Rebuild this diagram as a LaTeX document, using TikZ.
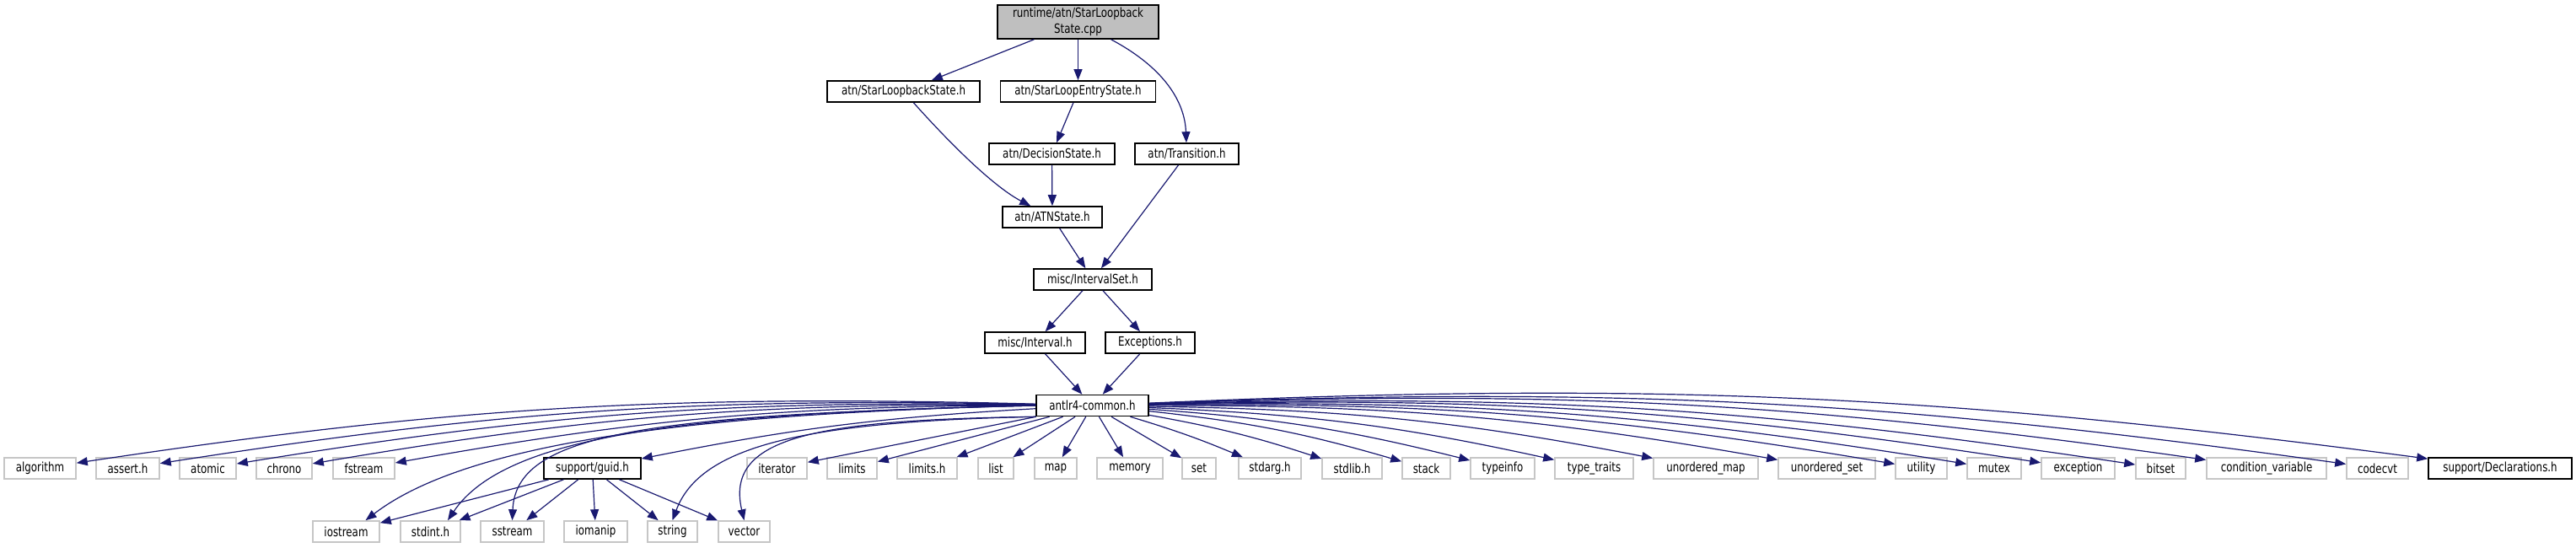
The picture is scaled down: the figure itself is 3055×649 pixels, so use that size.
\documentclass[tikz,border=0pt]{standalone}
\usepackage{fontspec}
\setmainfont[FakeStretch=0.78]{DejaVu Sans}
\usepackage{tikz}
\usepackage{xcolor}
\usetikzlibrary{arrows.meta}
\definecolor{depblue}{HTML}{191970}

\begin{document}
\begin{tikzpicture}[x=0.5pt,y=-0.5pt,
  hfile/.style={draw=black,line width=0.8pt,fill=white,inner sep=0pt,minimum height=12.5pt,font=\fontsize{7.6}{9.5}\selectfont},
  sysfile/.style={hfile,draw=gray!45},
  srcfile/.style={hfile,fill=gray!50,minimum height=20pt,align=center},
  dep/.style={draw=depblue,line width=0.6pt,-{Triangle[length=6.5pt,width=5pt]}}]
  \useasboundingbox (0,0) rectangle (3055,649);
  % upper part
  \node[srcfile,minimum width=95.5pt] (root) at (1278.5,26) {runtime/atn/StarLoopback\\State.cpp};
  \node[hfile,minimum width=90.5pt] (loopback) at (1071.5,108.5) {atn/StarLoopbackState.h};
  \node[hfile,minimum width=92pt] (loopentry) at (1278.5,108.5) {atn/StarLoopEntryState.h};
  \node[hfile,minimum width=74.5pt] (decision) at (1247.5,182.5) {atn/DecisionState.h};
  \node[hfile,minimum width=61.5pt] (transition) at (1407.5,182.5) {atn/Transition.h};
  \node[hfile,minimum width=59pt] (atnstate) at (1248,257.5) {atn/ATNState.h};
  \node[hfile,minimum width=70pt] (intervalset) at (1296,331.5) {misc/IntervalSet.h};
  \node[hfile,minimum width=59.5pt] (interval) at (1227.5,406.5) {misc/Interval.h};
  \node[hfile,minimum width=53pt] (exceptions) at (1364,406.5) {Exceptions.h};
  \node[hfile,minimum width=66.5pt] (common) at (1295.5,481) {antlr4-common.h};
  % first row
  \node[sysfile,minimum width=42.5pt] (algorithm) at (47.5,555.5) {algorithm};
  \node[sysfile,minimum width=37.5pt] (assert) at (151.5,555.5) {assert.h};
  \node[sysfile,minimum width=33.5pt] (atomic) at (246.5,555.5) {atomic};
  \node[sysfile,minimum width=33pt] (chrono) at (337,555.5) {chrono};
  \node[sysfile,minimum width=36.5pt] (fstream) at (431.5,555.5) {fstream};
  \node[hfile,minimum width=57.5pt] (guid) at (702.5,555.5) {support/guid.h};
  \node[sysfile,minimum width=35.5pt] (iterator) at (921.5,555.5) {iterator};
  \node[sysfile,minimum width=29.5pt] (limits) at (1010.5,555.5) {limits};
  \node[sysfile,minimum width=35.5pt] (limitsh) at (1099.5,555.5) {limits.h};
  \node[sysfile,minimum width=21pt] (list) at (1181,555.5) {list};
  \node[sysfile,minimum width=25pt] (map) at (1252,555.5) {map};
  \node[sysfile,minimum width=39pt] (memory) at (1340,555.5) {memory};
  \node[sysfile,minimum width=20pt] (set) at (1422,555.5) {set};
  \node[sysfile,minimum width=37pt] (stdarg) at (1506,555.5) {stdarg.h};
  \node[sysfile,minimum width=35.5pt] (stdlib) at (1603.5,555.5) {stdlib.h};
  \node[sysfile,minimum width=28.5pt] (stack) at (1691.5,555.5) {stack};
  \node[sysfile,minimum width=38pt] (typeinfo) at (1782,555.5) {typeinfo};
  \node[sysfile,minimum width=46.5pt] (typetraits) at (1890.5,555.5) {type\_traits};
  \node[sysfile,minimum width=62pt] (umap) at (2023,555.5) {unordered\_map};
  \node[sysfile,minimum width=57.5pt] (uset) at (2166.5,555.5) {unordered\_set};
  \node[sysfile,minimum width=30.5pt] (utility) at (2278.5,555.5) {utility};
  \node[sysfile,minimum width=32pt] (mutex) at (2365,555.5) {mutex};
  \node[sysfile,minimum width=43.5pt] (exception) at (2464.5,555.5) {exception};
  \node[sysfile,minimum width=29.5pt] (bitset) at (2562.5,555.5) {bitset};
  \node[sysfile,minimum width=71pt] (condvar) at (2688,555.5) {condition\_variable};
  \node[sysfile,minimum width=36.5pt] (codecvt) at (2819.5,555.5) {codecvt};
  \node[hfile,minimum width=85pt] (declarations) at (2965,555.5) {support/Declarations.h};
  % second row
  \node[sysfile,minimum width=39.5pt] (iostream) at (410.5,630.5) {iostream};
  \node[sysfile,minimum width=35.5pt] (stdint) at (510.5,630.5) {stdint.h};
  \node[sysfile,minimum width=37.5pt] (sstream) at (607.5,630.5) {sstream};
  \node[sysfile,minimum width=37.5pt] (iomanip) at (706.5,630.5) {iomanip};
  \node[sysfile,minimum width=29.5pt] (string) at (797.5,630.5) {string};
  \node[sysfile,minimum width=30.5pt] (vector) at (882.5,630.5) {vector};
  % includes
  \draw[dep] (root) -- (loopback); \draw[dep] (root) -- (loopentry);
  \draw[dep] (root) .. controls (1380,80) and (1405,120) .. (transition);
  \draw[dep] (loopback) .. controls (1140,185) and (1185,225) .. (atnstate);
  \draw[dep] (loopentry) -- (decision); \draw[dep] (decision) -- (atnstate);
  \draw[dep] (atnstate) -- (intervalset); \draw[dep] (transition) -- (intervalset);
  \draw[dep] (intervalset) -- (interval); \draw[dep] (intervalset) -- (exceptions);
  \draw[dep] (interval) -- (common); \draw[dep] (exceptions) -- (common);
  \draw[dep] (common) to[bend right=5] (algorithm); \draw[dep] (common) to[bend right=5] (assert);
  \draw[dep] (common) to[bend right=5] (atomic); \draw[dep] (common) to[bend right=5] (chrono);
  \draw[dep] (common) to[bend right=5] (fstream); \draw[dep] (common) to[bend right=4] (guid);
  \draw[dep] (common.west) .. controls (850,490) and (560,520) .. (iostream.30);
  \draw[dep] (common.west) .. controls (820,490) and (600,515) .. (stdint.33);
  \draw[dep] (common.west) .. controls (760,492) and (612,515) .. (sstream.north);
  \draw[dep] (common.south west) .. controls (950,500) and (830,530) .. (string.north);
  \draw[dep] (common.south west) .. controls (960,498) and (860,520) .. (vector.north);
  \draw[dep] (common) -- (iterator); \draw[dep] (common) -- (limits); \draw[dep] (common) -- (limitsh);
  \draw[dep] (common) -- (list); \draw[dep] (common) -- (map); \draw[dep] (common) -- (memory);
  \draw[dep] (common) -- (set); \draw[dep] (common) to[bend left=3] (stdarg); \draw[dep] (common) to[bend left=4] (stdlib);
  \draw[dep] (common) to[bend left=5] (stack); \draw[dep] (common) to[bend left=5] (typeinfo); \draw[dep] (common) to[bend left=5] (typetraits);
  \draw[dep] (common) to[bend left=5] (umap); \draw[dep] (common) to[bend left=5] (uset); \draw[dep] (common) to[bend left=5] (utility);
  \draw[dep] (common) to[bend left=5] (mutex); \draw[dep] (common) to[bend left=5] (exception); \draw[dep] (common) to[bend left=5] (bitset);
  \draw[dep] (common) to[bend left=5] (condvar); \draw[dep] (common) to[bend left=5] (codecvt); \draw[dep] (common) to[bend left=5] (declarations);
  \draw[dep] (guid) -- (iostream); \draw[dep] (guid) -- (stdint); \draw[dep] (guid) -- (sstream);
  \draw[dep] (guid) -- (iomanip); \draw[dep] (guid) -- (string); \draw[dep] (guid) -- (vector);
\end{tikzpicture}
\end{document}
